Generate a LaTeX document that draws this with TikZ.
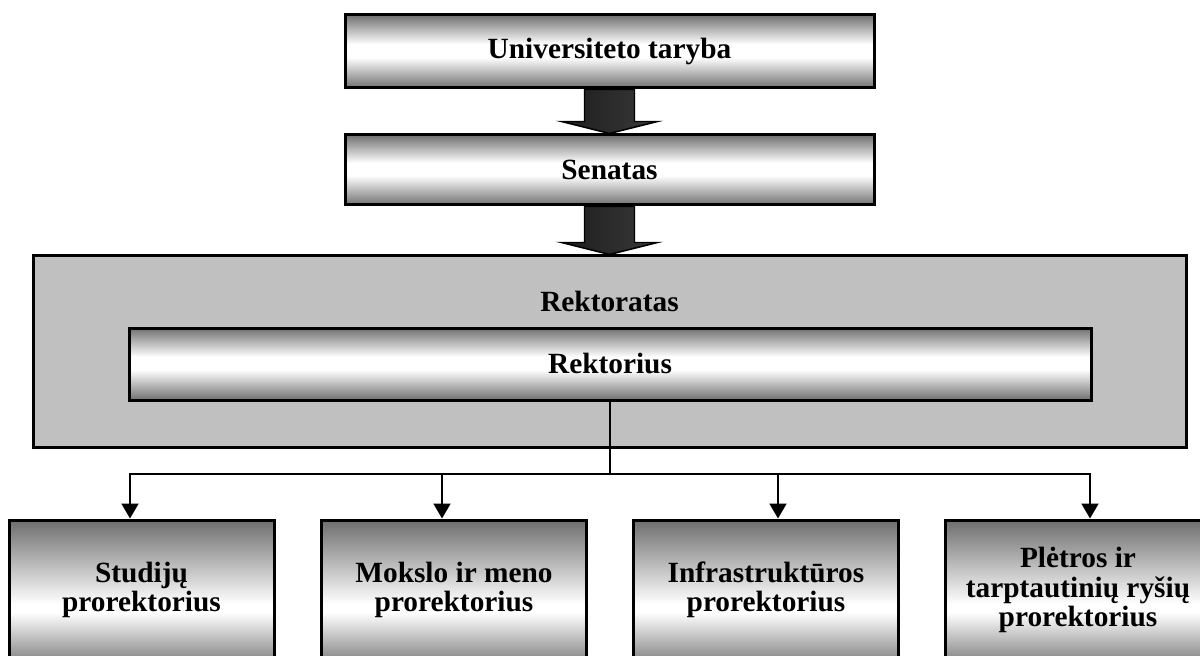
\documentclass[tikz,border=0pt]{standalone}
\usepackage{fontspec}
\setmainfont{Liberation Serif}
\usetikzlibrary{arrows.meta,calc}

\definecolor{tubeedge}{gray}{0.44}
\definecolor{protop}{gray}{0.43}
\definecolor{probottom}{gray}{0.53}
\definecolor{panelgray}{RGB}{192,192,192}
\definecolor{arrowdark}{RGB}{28,28,28}
\definecolor{arrowlight}{RGB}{58,58,58}

% horizontal "tube" shading: dark edges, white band in the middle
\pgfdeclareverticalshading{tube}{100bp}{color(0bp)=(tubeedge); color(25bp)=(tubeedge);
  color(46bp)=(white); color(55bp)=(white); color(75bp)=(tubeedge); color(100bp)=(tubeedge)}
% vice-rector boxes: dark top, white band low down
\pgfdeclareverticalshading{prograd}{100bp}{color(0bp)=(probottom); color(25bp)=(probottom);
  color(42bp)=(white); color(45bp)=(white); color(75bp)=(protop); color(100bp)=(protop)}

\begin{document}
\begin{tikzpicture}[x=0.75pt,y=-0.75pt,
  every node/.style={font=\fontsize{22pt}{22pt}\selectfont\bfseries, align=center},
  tubebox/.style={draw=black, line width=2.25pt, shading=tube, inner sep=0pt},
  panel/.style={draw=black, line width=2.25pt, fill=panelgray, inner sep=0pt},
  probox/.style={draw=black, line width=2.25pt, shading=prograd, inner sep=0pt,
    minimum width=198.75pt, minimum height=105pt},
  blockarrow/.style={draw=black, line width=1.1pt, line join=miter,
    left color=arrowdark, right color=arrowlight},
  conn/.style={draw=black, line width=1.5pt},
  connarrow/.style={conn, -{Triangle[width=12.75pt,length=11.25pt]}}]

\useasboundingbox (0,0) rectangle (1200,656);
\clip (0,0) rectangle (1200,656);

% governing bodies
\node[tubebox, minimum width=396.75pt, minimum height=54.75pt] (taryba) at (609.5,51.5) {Universiteto taryba};
\node[tubebox, minimum width=396.75pt, minimum height=52.5pt] (senatas) at (609.5,170) {Senatas};

% rectorate panel with the rector inside
\node[panel, minimum width=864.75pt, minimum height=143.25pt] (rektoratas) at (609.5,351.5) {};
\node (rektoratasT) at (609.5,301) {Rektoratas};
\node[tubebox, minimum width=721.5pt, minimum height=54pt] (rektorius) at (610,364) {Rektorius};

% vice-rectors
\node[probox] (p1) at (141.5,590) {Studijų\\prorektorius};
\node[probox] (p2) at (454,590) {Mokslo ir meno\\prorektorius};
\node[probox] (p3) at (766,590) {Infrastruktūros\\prorektorius};
\node[probox] (p4) at (1078,590) {Plėtros ir\\tarptautinių ryšių\\prorektorius};

% block arrows between the governing bodies
\draw[blockarrow] ($(taryba.south)+(-25,0)$) -- ($(taryba.south)+(25,0)$)
  -- ($(senatas.north)+(25,-12)$) -- ($(senatas.north)+(48,-12)$)
  -- (senatas.north) -- ($(senatas.north)+(-48,-12)$)
  -- ($(senatas.north)+(-25,-12)$) -- cycle;
\draw[blockarrow] ($(senatas.south)+(-25,0)$) -- ($(senatas.south)+(25,0)$)
  -- ($(rektoratas.north)+(25,-12)$) -- ($(rektoratas.north)+(48,-12)$)
  -- (rektoratas.north) -- ($(rektoratas.north)+(-48,-12)$)
  -- ($(rektoratas.north)+(-25,-12)$) -- cycle;

% distribution line from the rector to the vice-rectors
\coordinate (bus) at ($(rektorius.south)+(0,72)$);
\coordinate (a1) at ($(p1.north)+(-11.5,0)$);
\coordinate (a2) at ($(p2.north)+(-12,0)$);
\coordinate (a3) at ($(p3.north)+(12,0)$);
\coordinate (a4) at ($(p4.north)+(12,0)$);
\draw[conn] (rektorius.south) -- (bus);
\draw[connarrow] (bus) -| (a1);
\draw[connarrow] (bus) -| (a2);
\draw[connarrow] (bus) -| (a3);
\draw[connarrow] (bus) -| (a4);
\end{tikzpicture}
\end{document}
